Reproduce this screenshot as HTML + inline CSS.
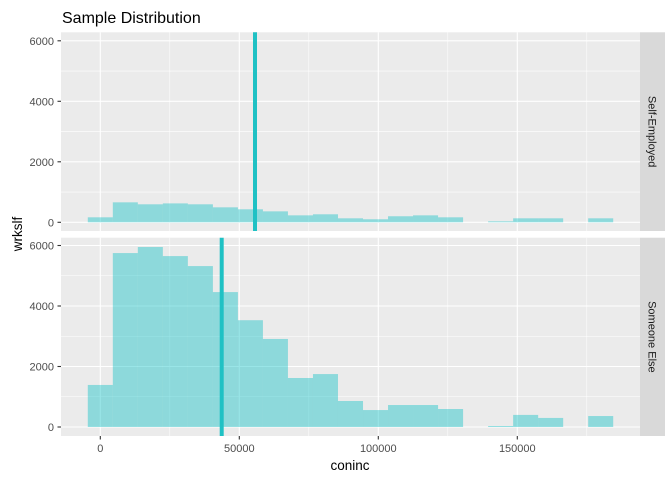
<!DOCTYPE html>
<html><head><meta charset="utf-8"><style>
body{margin:0;background:#fff;width:672px;height:480px;overflow:hidden}
svg{display:block;font-family:"Liberation Sans",sans-serif}
</style></head><body>
<svg id="chart" width="672" height="480">
<text x="62" y="23" font-size="16" fill="#000">Sample Distribution</text>
<text x="350" y="470" font-size="13.5" text-anchor="middle" fill="#000">coninc</text>
<text transform="translate(22,234) rotate(-90)" font-size="13.5" text-anchor="middle" fill="#000">wrkslf</text>
</svg>
<script>
const panels = ["Self-Employed", "Someone Else"];
const binCenters = [0,9000,18000,27000,36000,45000,54000,63000,72000,81000,90000,99000,108000,117000,126000,135000,144000,153000,162000,171000,180000];
const countsSelf = [165,660,595,625,595,495,430,362,230,265,132,100,200,230,165,0,33,132,132,0,132];
const countsElse = [1390,5750,5950,5650,5320,4460,3530,2910,1620,1750,860,560,727,727,595,0,33,400,300,0,363];
const means = [55650, 43670];
const xTicks = [0,50000,100000,150000];
const yTicks = [0,2000,4000,6000];
const binWidth = 9000;

const NS="http://www.w3.org/2000/svg";
const svg=document.getElementById('chart');
function mk(t,a,p){const e=document.createElementNS(NS,t);for(const k in a)e.setAttribute(k,a[k]);(p||svg).appendChild(e);return e;}
const X0=61,X1=640;
const xs=v=>100.3+v*139/50000;
const panelGeom=[{top:32.3,bot:231,zero:222.3},{top:237.7,bot:436,zero:427}];
const pxPer=181.5/6000;
const seriesList=[countsSelf,countsElse];
panelGeom.forEach((g,pi)=>{
  const ys=v=>g.zero-v*pxPer;
  const grp=mk('g',{});
  
  
  const bg=mk('rect',{x:X0,y:g.top,width:X1-X0,height:g.bot-g.top,fill:'#ebebeb'},grp);
  
  
  for(let v=-25000;v<=200000;v+=50000){const x=xs(v);if(x>X0&&x<X1){const l=mk('line',{x1:x,x2:x,y1:g.top,y2:g.bot,stroke:'#fff','stroke-width':0.55},grp);}}
  for(let v=1000;v<=7000;v+=2000){const y=ys(v);if(y>g.top){const l=mk('line',{x1:X0,x2:X1,y1:y,y2:y,stroke:'#fff','stroke-width':0.55},grp);}}
  xTicks.forEach(v=>{const x=xs(v);const l=mk('line',{x1:x,x2:x,y1:g.top,y2:g.bot,stroke:'#fff','stroke-width':1.1},grp);});
  yTicks.forEach(v=>{const y=ys(v);const l=mk('line',{x1:X0,x2:X1,y1:y,y2:y,stroke:'#fff','stroke-width':1.1},grp);
    const t=mk('line',{x1:57.5,x2:X0,y1:y,y2:y,stroke:'#333','stroke-width':1.1},grp);
    const tx=mk('text',{x:54,y:y+4,'font-size':11,'text-anchor':'end',fill:'#4d4d4d'},grp);tx.textContent=v;});
  seriesList[pi].forEach((c,i)=>{if(c<=0)return;const x=xs(binCenters[i]-binWidth/2);const w=xs(binCenters[i]+binWidth/2)-x;
    const r=mk('rect',{x:x,y:ys(c),width:w,height:g.zero-ys(c),fill:'#00BFC4','fill-opacity':0.4},grp);
    
    });
  const m=mk('line',{x1:xs(means[pi]),x2:xs(means[pi]),y1:g.top,y2:g.bot,stroke:'#1fc1c4','stroke-width':4},grp);
  
  
  const s=mk('rect',{x:640,y:g.top,width:25,height:g.bot-g.top,fill:'#d9d9d9'},grp);
  
  
  const cy=(g.top+g.bot)/2;
  const st=mk('text',{transform:`translate(648.5,${cy}) rotate(90)`,'font-size':11,'text-anchor':'middle',fill:'#1a1a1a'},grp);
  st.textContent=panels[pi];
  
  
});
xTicks.forEach(v=>{const x=xs(v);
  const t=mk('line',{x1:x,x2:x,y1:436,y2:439.5,stroke:'#333','stroke-width':1.1});
  
  
  const tx=mk('text',{x:x,y:452,'font-size':11,'text-anchor':'middle',fill:'#4d4d4d'});
  tx.textContent=v;
  
  });
</script>
</body></html>
